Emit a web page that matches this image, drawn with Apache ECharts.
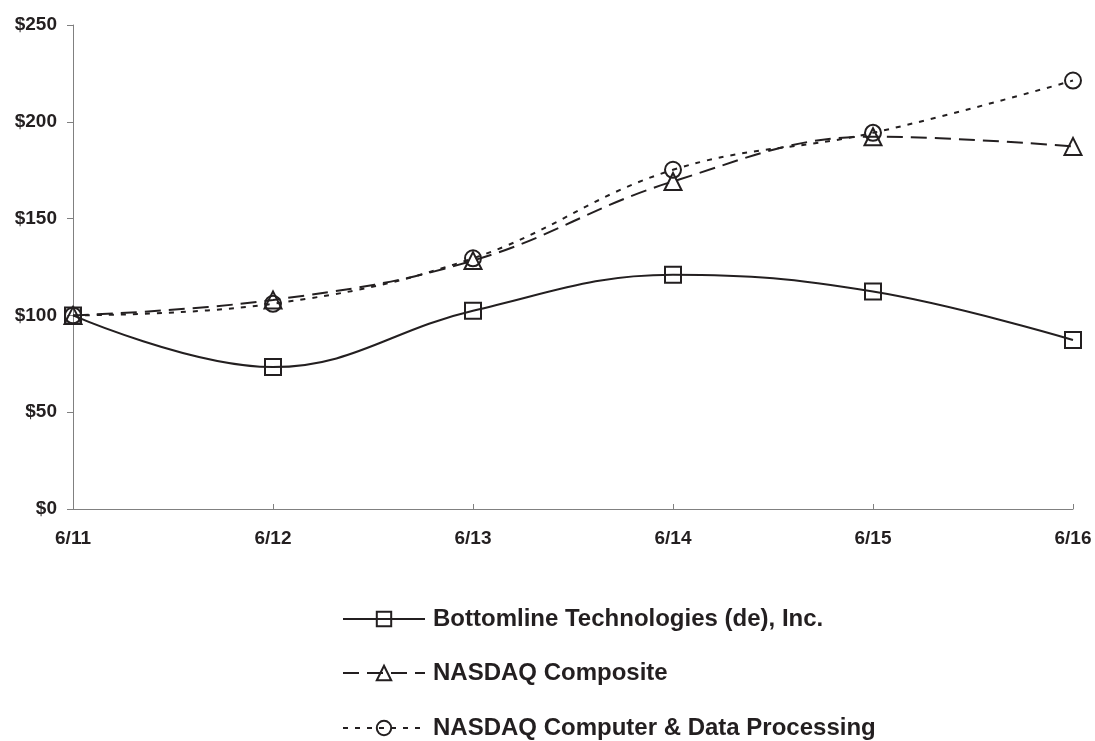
<!DOCTYPE html>
<html>
<head>
<meta charset="utf-8">
<script src="https://cdn.jsdelivr.net/npm/echarts@6/dist/echarts.min.js"></script>
<style>html,body{margin:0;padding:0;background:#fff;}#c{width:1095px;height:741px;}</style>
</head>
<body>
<div id="c"></div>
<script>
const categories = ['6/11', '6/12', '6/13', '6/14', '6/15', '6/16'];
const bottomline = [100, 73.3, 102.4, 121, 112.3, 87.3];
const nasdaqComposite = [100, 108, 128.3, 169.2, 192.3, 187.3];
const nasdaqComputer = [100, 106, 129.5, 175.2, 194.3, 221.3];
const yTicks = [0, 50, 100, 150, 200, 250];
const seriesNames = ['Bottomline Technologies (de), Inc.', 'NASDAQ Composite', 'NASDAQ Computer & Data Processing'];

const ink = '#231f20';
const chart = echarts.init(document.getElementById('c'));
const font = 'Liberation Sans, Arial, sans-serif';

function mk(name, data, symbol, dash, size) {
  return {
    name, type: 'line', data, smooth: 0.4,
    symbol, symbolSize: size, showSymbol: true,
    lineStyle: { color: ink, width: 2, type: dash },
    itemStyle: { color: 'rgba(0,0,0,0)', borderColor: ink, borderWidth: 2 },
    emphasis: { disabled: true },
    z: 3
  };
}

const legendTops = [607, 661, 716];
const legends = seriesNames.map((n, i) => ({
  orient: 'vertical', left: 342, top: legendTops[i], padding: 0,
  itemWidth: 82, itemHeight: 18,
  textStyle: { color: ink, fontFamily: font, fontWeight: 'bold', fontSize: 24, padding: [0, 0, 0, 3] },
  data: [n]
}));

chart.setOption({
  animation: false,
  backgroundColor: '#fff',
  grid: { left: 73, right: 22, top: 25, bottom: 232 },
  xAxis: {
    type: 'category', data: categories, boundaryGap: false,
    axisLine: { lineStyle: { color: '#808080', width: 1 } },
    axisTick: { show: true, inside: true, length: 5, lineStyle: { color: '#808080' } },
    axisLabel: { color: ink, fontFamily: font, fontWeight: 'bold', fontSize: 19, margin: 20 },
    splitLine: { show: false }
  },
  yAxis: {
    type: 'value', min: 0, max: 250, interval: 50,
    axisLine: { show: true, lineStyle: { color: '#808080', width: 1 } },
    axisTick: { show: true, length: 6, lineStyle: { color: '#808080' } },
    axisLabel: { color: ink, fontFamily: font, fontWeight: 'bold', fontSize: 19, margin: 16,
      formatter: v => yTicks.includes(v) ? '$' + v : '' },
    splitLine: { show: false }
  },
  legend: legends,
  series: [
    mk(seriesNames[0], bottomline, 'rect', 'solid', 16),
    mk(seriesNames[1], nasdaqComposite, 'triangle', [16, 8], 17),
    mk(seriesNames[2], nasdaqComputer, 'circle', [5, 7], 16)
  ]
});
</script>
</body>
</html>
